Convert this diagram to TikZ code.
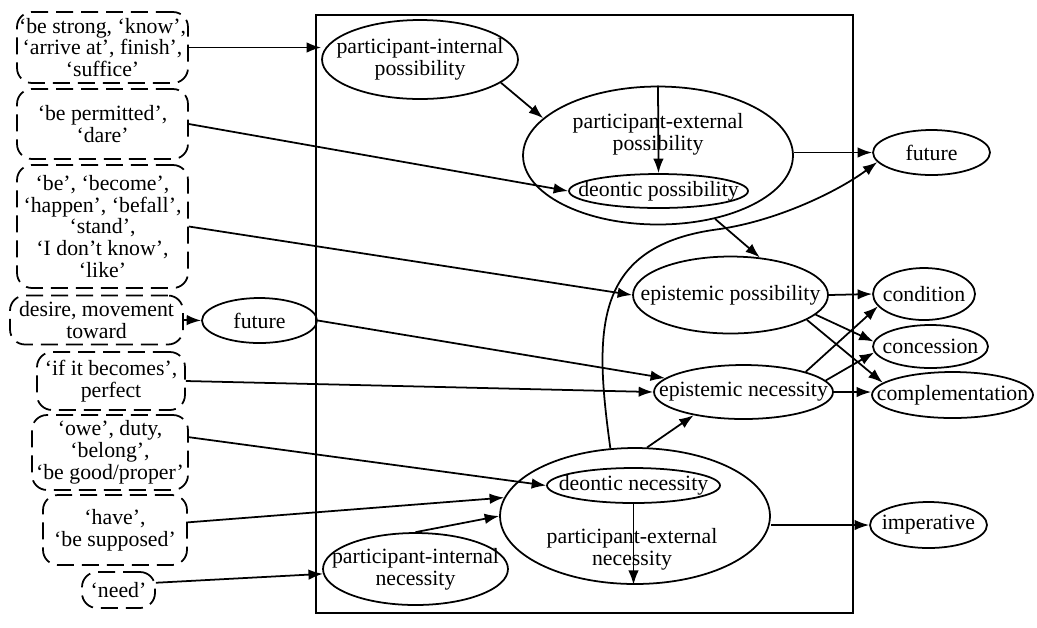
\documentclass[tikz,border=0pt]{standalone}
\usepackage{fontspec}
\setmainfont{Liberation Serif}
\usetikzlibrary{calc, shapes, shapes.geometric, positioning, arrows.meta, backgrounds}

\begin{document}
\begin{tikzpicture}[x=0.02cm,y=-0.02cm,line width=1pt,
    every node/.style={font=\fontsize{12.4}{12.4}\selectfont},
    sense/.style={draw,dash pattern=on 3.4mm off 1.6mm,rounded corners=3mm,align=center,inner sep=0pt},
    big/.style={draw,ellipse,inner sep=0pt},
    ell/.style={draw,ellipse,inner sep=0pt,label={[align=center]center:#1}},
    arr/.style={-{Latex[length=2.9mm,width=2.1mm]}}]
  \useasboundingbox (0,0) rectangle (1037,627);
  \draw (316,15) rectangle (853,613); % frame of the modal domain
  % source meanings
  \node[sense,minimum width=3.42cm,minimum height=1.42cm] (L1) at (102.5,47.5) {‘be strong, ‘know’,\\‘arrive at’, finish’,\\‘suffice’};
  \node[sense,minimum width=3.42cm,minimum height=1.40cm] (L2) at (102.5,124) {‘be permitted’,\\‘dare’};
  \node[sense,minimum width=3.42cm,minimum height=2.46cm] (L3) at (102.5,226.5) {‘be’, ‘become’,\\‘happen’, ‘befall’,\\‘stand’,\\‘I don’t know’,\\‘like’};
  \node[sense,minimum width=3.46cm,minimum height=0.98cm] (L4) at (96.5,320) {desire, movement\\toward};
  \node[sense,minimum width=2.96cm,minimum height=1.16cm] (L5) at (111,381) {‘if it becomes’,\\perfect};
  \node[sense,minimum width=3.12cm,minimum height=1.50cm] (L6) at (110,452.5) {‘owe’, duty,\\‘belong’,\\‘be good/proper’};
  \node[sense,minimum width=2.88cm,minimum height=1.40cm] (L7) at (115,530) {‘have’,\\‘be supposed’};
  \node[sense,minimum width=1.46cm,minimum height=0.72cm] (L8) at (118.5,590) {‘need’};
  \node[ell={future},minimum width=2.30cm,minimum height=0.90cm] (F1) at (259.5,320.5) {};
  % modal senses
  \node[ell={participant-internal\\possibility},minimum width=3.92cm,minimum height=1.58cm] (PIP) at (420,59.5) {};
  \node[big,minimum width=5.40cm,minimum height=2.76cm,label={[align=center,yshift=0.43cm]center:participant-external\\possibility}] (PEP) at (658,155.5) {};
  \node[ell={deontic possibility},minimum width=3.58cm,minimum height=0.68cm] (DP) at (658.5,191) {};
  \node[ell={epistemic possibility},minimum width=3.90cm,minimum height=1.54cm] (EP) at (730.5,295) {};
  \node[ell={epistemic necessity},minimum width=3.58cm,minimum height=1.08cm] (EN) at (743.5,392) {};
  \node[big,minimum width=5.40cm,minimum height=2.72cm,label={[align=center,xshift=-0.06cm,yshift=-0.66cm]center:participant-external\\necessity}] (PEN) at (635,516) {};
  \node[ell={deontic necessity},minimum width=3.46cm,minimum height=0.70cm] (DN) at (633.5,485.5) {};
  \node[ell={participant-internal\\necessity},minimum width=3.70cm,minimum height=1.44cm] (PIN) at (415.5,569) {};
  % later meanings
  \node[ell={future},minimum width=2.34cm,minimum height=0.90cm] (F2) at (931.5,152.5) {};
  \node[ell={condition},minimum width=2.04cm,minimum height=1.04cm] (Cond) at (924,294) {};
  \node[ell={concession},minimum width=2.30cm,minimum height=0.86cm] (Conc) at (930.5,346.5) {};
  \node[ell={complementation},minimum width=3.22cm,minimum height=0.92cm] (Comp) at (952.5,395) {};
  \node[ell={imperative},minimum width=2.34cm,minimum height=0.92cm] (Imp) at (928.5,525) {};
  % paths
  \draw[arr] (L1.east) -- (L1.east -| PIP.west);
  \draw[arr] (L2.east) -- (DP.west);
  \draw[arr] (L3.east) -- (EP.west);
  \draw[arr] (L4.east) -- (F1.west);
  \draw[arr] (L5.east) -- (EN.west);
  \draw[arr] (L6.11) -- (DN.west);
  \draw[arr] (L7.6) -- (PEN.172);
  \draw[arr] (L8.11) -- (PIN.183);
  \draw[arr] (F1.east) -- (EN.170);
  \draw[arr] (PIP.-16) -- (PEP.162);
  \draw[arr] (PEP.north) -- (DP.north);
  \draw[arr] (PEP.east |- F2.west) -- (F2.west);
  \draw[arr] (PEP.-48) -- (EP.52);
  \draw[arr] (PIN.north) -- (PEN.west);
  \draw[arr] (DN.south) -- (DN.south |- PEN.south);
  \draw[arr] (PEN.80) -- (EN.205);
  \draw[arr] (PEN.110) .. controls (594,330) and (592,245) .. (720,229) .. controls (780,220) and (840,190) .. (F2.190);
  \draw[arr] (PEN.east |- Imp.west) -- (Imp.west);
  \draw[arr] (EP.east) -- (Cond.west);
  \draw[arr] (EP.-13) -- (Conc.175);
  \draw[arr] (EP.-18) -- (Comp.170);
  \draw[arr] (EN.18) -- (Cond.195);
  \draw[arr] (EN.8) -- (Conc.186);
  \draw[arr] (EN.east) -- (EN.east -| Comp.west);
\end{tikzpicture}
\end{document}
